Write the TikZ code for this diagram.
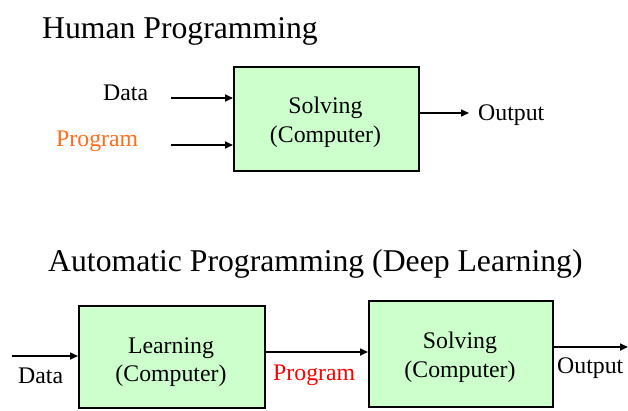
\documentclass[tikz,border=0pt]{standalone}
\usepackage{fontspec}
\setmainfont{Liberation Serif}
\usetikzlibrary{arrows.meta}
\definecolor{boxgreen}{RGB}{204,255,204}
\definecolor{progorange}{RGB}{255,110,30}
\definecolor{progred}{RGB}{255,0,0}
\begin{document}
\begin{tikzpicture}[x=1pt,y=-1pt,
  box/.style={draw=black, line width=1.8pt, fill=boxgreen, inner sep=0pt, anchor=north west},
  lbl/.style={font=\fontsize{23.8}{29}\selectfont, inner sep=0pt, anchor=base},
  lblw/.style={font=\fontsize{23.8}{29}\selectfont, inner sep=0pt, anchor=base west},
  ttl/.style={font=\fontsize{31.7}{38}\selectfont, inner sep=0pt, anchor=base west},
  arr/.style={-{Triangle[length=8pt,width=7pt]}, line width=1.6pt}]
\useasboundingbox (0,0) rectangle (628,410);

% Titles
\node[ttl] (t1) at (42,38) {Human Programming};
\node[ttl] (t2) at (48,271) {Automatic Programming (Deep Learning)};

% Top diagram
\node[box, minimum width=185pt, minimum height=104pt] (s1) at (233,66) {};
\node[lbl] (s1a) at (325.5,113) {Solving};
\node[lbl] (s1b) at (325.5,142) {(Computer)};
\node[lblw] (d1) at (103,100) {Data};
\node[lblw, text=progorange] (p1) at (56,146) {Program};
\node[lblw] (o1) at (478,120) {Output};
\coordinate (d1s) at (171,98);
\coordinate (p1s) at (171,145);
\coordinate (o1e) at (469,113);
\draw[arr] (d1s) -- (d1s -| s1.west);
\draw[arr] (p1s) -- (p1s -| s1.west);
\draw[arr] (o1e -| s1.east) -- (o1e);

% Bottom diagram
\node[box, minimum width=186pt, minimum height=102pt] (l2) at (78,305) {};
\node[lbl] (l2a) at (171,353) {Learning};
\node[lbl] (l2b) at (171,381) {(Computer)};
\node[box, minimum width=184pt, minimum height=106pt] (s2) at (368,300) {};
\node[lbl] (s2a) at (460,348) {Solving};
\node[lbl] (s2b) at (460,377) {(Computer)};
\node[lblw] (d2) at (18,383) {Data};
\node[lblw, text=progred] (p2) at (273,380) {Program};
\node[lblw] (o2) at (557,373) {Output};
\coordinate (d2s) at (12,356);
\coordinate (p2y) at (0,352);
\coordinate (o2e) at (628,347);
\draw[arr] (d2s) -- (d2s -| l2.west);
\draw[arr] (p2y -| l2.east) -- (p2y -| s2.west);
\draw[arr] (o2e -| s2.east) -- (o2e);
\end{tikzpicture}
\end{document}
